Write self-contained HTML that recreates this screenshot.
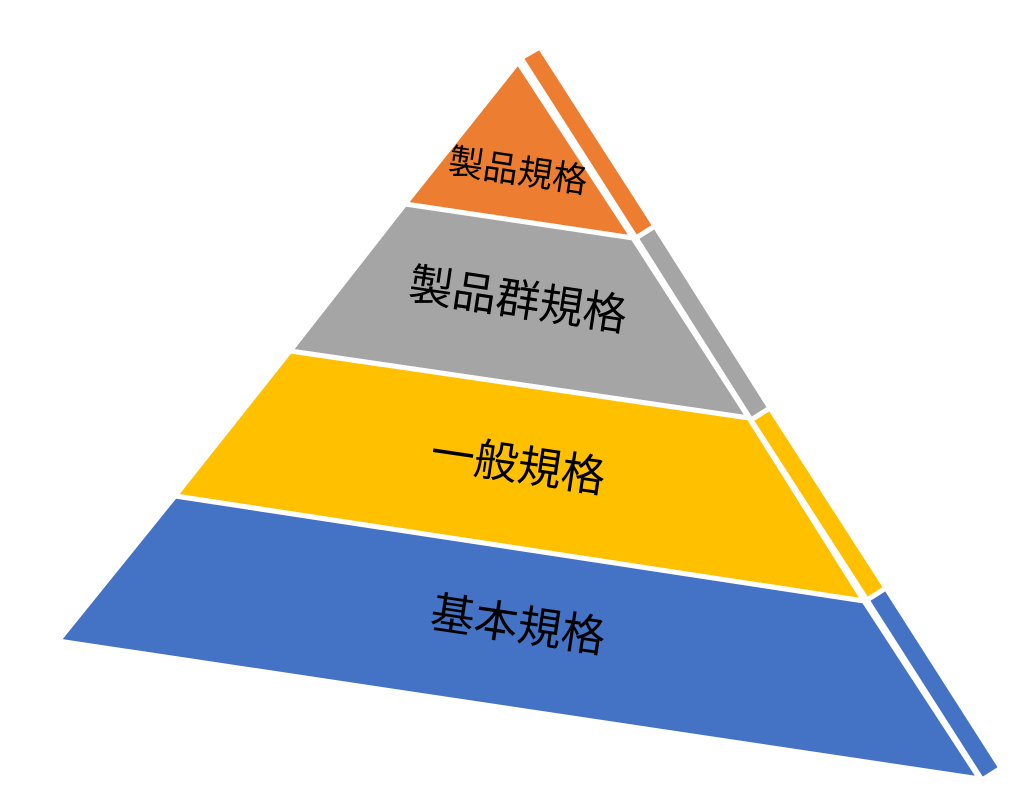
<!DOCTYPE html>
<html><head><meta charset="utf-8"><style>
body{margin:0;background:#fff;width:1024px;height:797px;overflow:hidden}
svg text{font-family:"Liberation Sans","Noto Sans CJK JP",sans-serif;fill:#000}
</style></head><body>
<svg width="1024" height="797" viewBox="0 0 1024 797">
<g stroke="#fff" stroke-width="5" stroke-linejoin="miter">
<polygon points="518,62 405,204 633,238" fill="#ED7D31"/>
<polygon points="405,204 290,351 749,418 633,238" fill="#A5A5A5"/>
<polygon points="290,351 175,496 864,601 749,418" fill="#FFC000"/>
<polygon points="175,496 58,641 980,779 864,601" fill="#4472C4"/>
<polygon points="521,58 540,47 655,226 636,238" fill="#ED7D31"/>
<polygon points="636,238 655,226 770,408 751,420" fill="#A5A5A5"/>
<polygon points="751,420 770,408 886,588 867,600" fill="#FFC000"/>
<polygon points="867,600 886,588 1001,768 982,780" fill="#4472C4"/>
</g>
<g text-anchor="middle">
<text x="518" y="183" font-size="35" transform="rotate(8.5 518 171)">製品規格</text>
<text x="518" y="315" font-size="44" transform="rotate(8.5 518 300)">製品群規格</text>
<text x="518" y="480" font-size="44" transform="rotate(8.5 518 465)">一般規格</text>
<text x="518" y="640" font-size="44" transform="rotate(8.5 518 625)">基本規格</text>
</g>
</svg>
</body></html>
